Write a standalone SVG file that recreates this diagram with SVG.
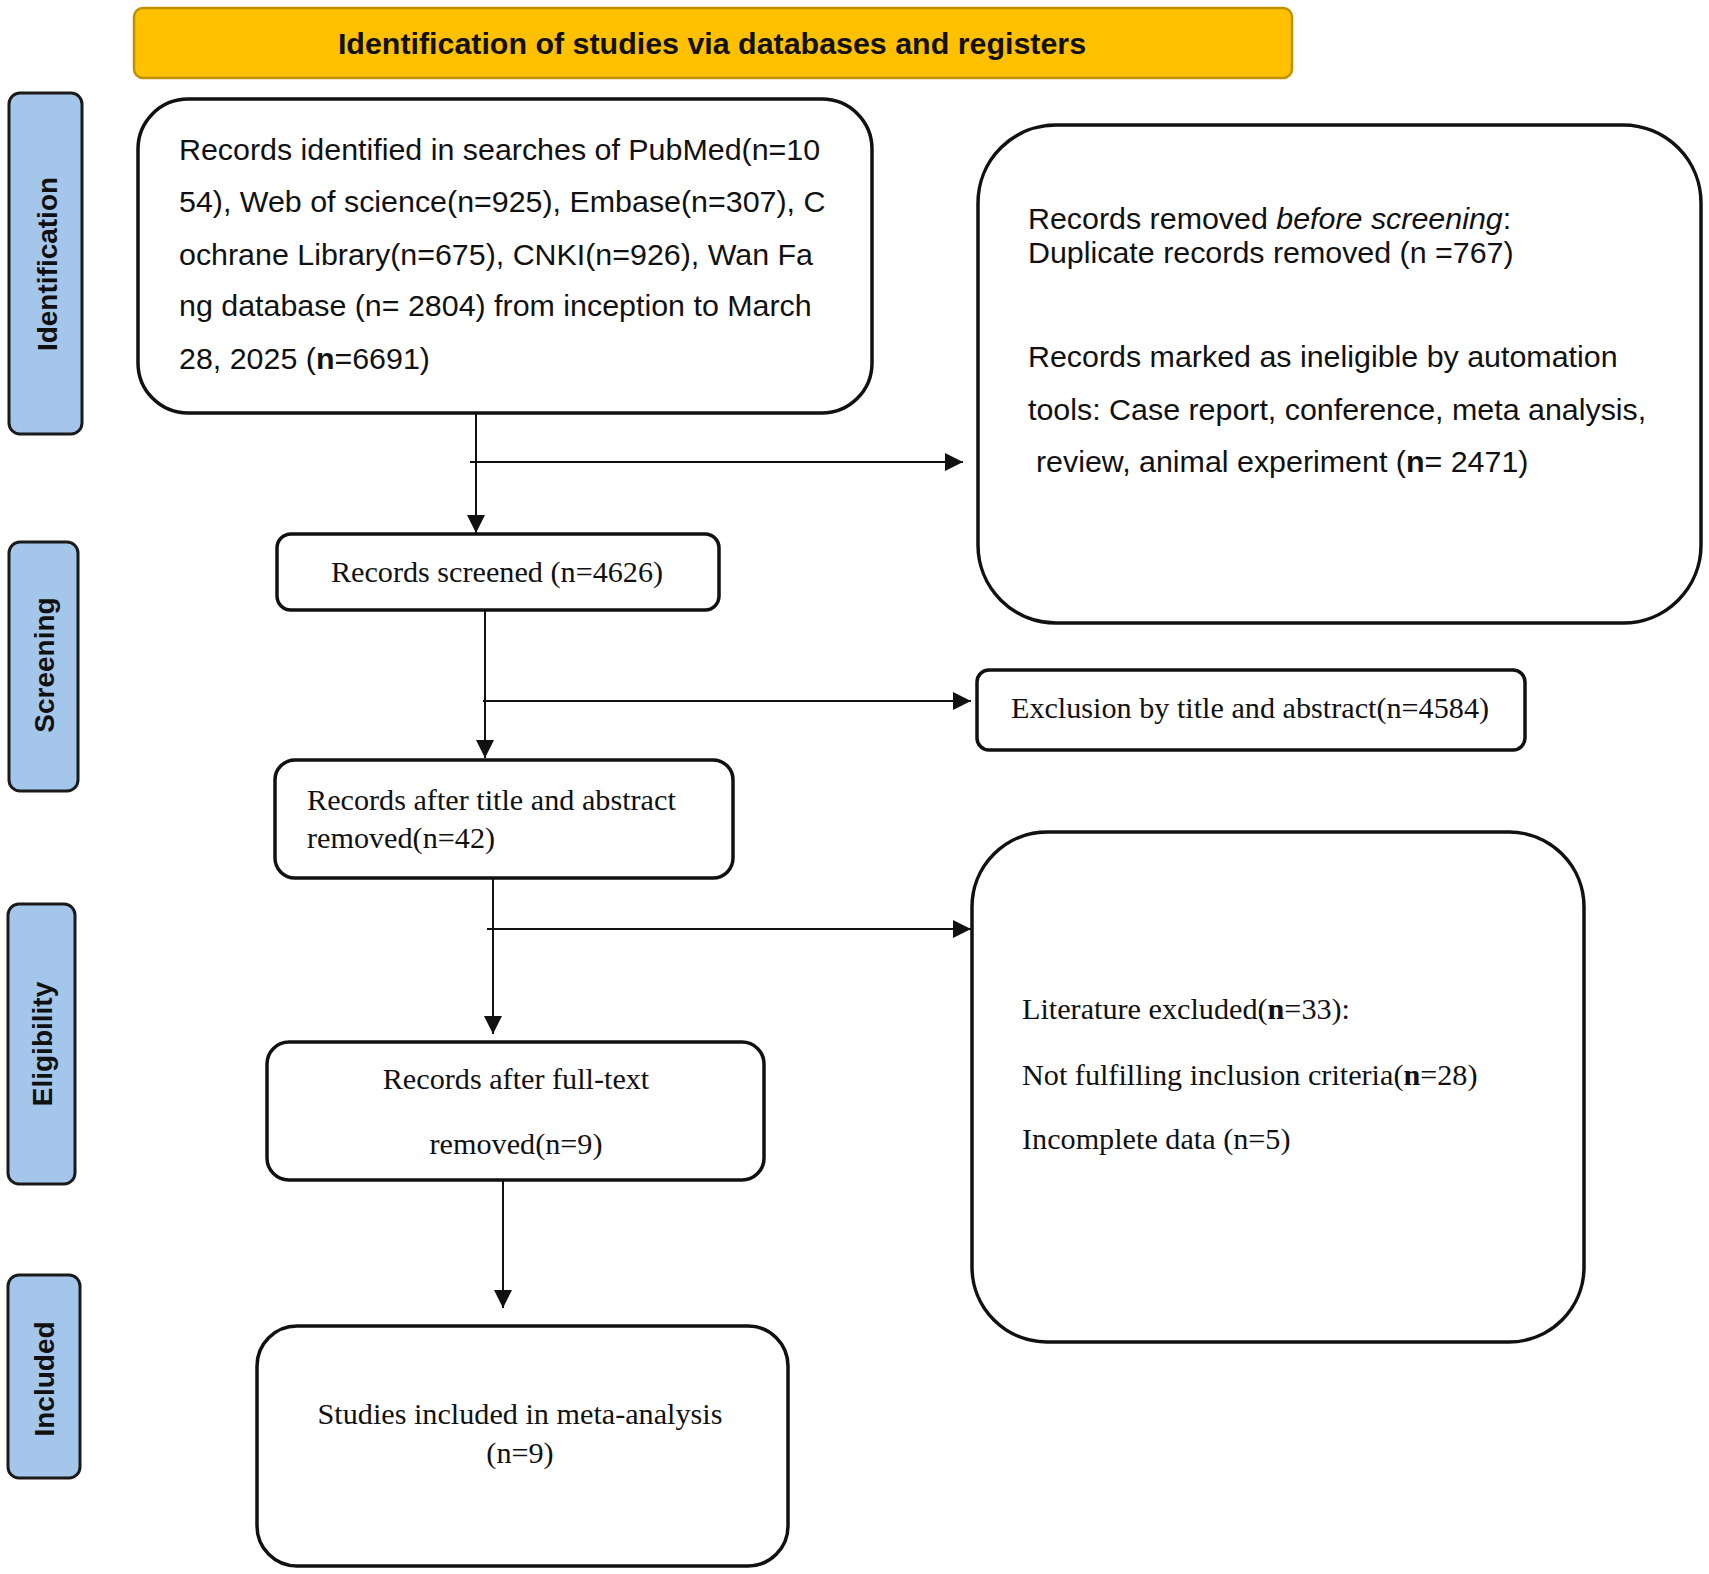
<svg xmlns="http://www.w3.org/2000/svg" width="1709" height="1574" viewBox="0 0 1709 1574">
<style>
.sans{font-family:"Liberation Sans",Arial,sans-serif;font-size:30.4px;fill:#111}
.serif{font-family:"Liberation Serif","Times New Roman",serif;font-size:30.2px;fill:#111}
.box{fill:#fff;stroke:#111;stroke-width:3.5}
.side{fill:#A4C6EA;stroke:#1a1a1a;stroke-width:3}
.sidetxt{font-family:"Liberation Sans",Arial,sans-serif;font-size:28px;font-weight:bold;fill:#111;text-anchor:middle}
.conn{stroke:#111;stroke-width:2;fill:none}
</style>
<defs>
<marker id="arr" viewBox="0 0 18 18" refX="18" refY="9" markerWidth="18" markerHeight="18" markerUnits="userSpaceOnUse" orient="auto">
<path d="M0,0 L18,9 L0,18 z" fill="#111"/>
</marker>
</defs>
<rect width="1709" height="1574" fill="#fff"/>

<g id="header">
<rect x="134" y="8" width="1158" height="70" rx="9" fill="#FFC000" stroke="#BF9000" stroke-width="2.5"/>
<text x="712" y="54" class="sans" font-weight="bold" text-anchor="middle">Identification of studies via databases and registers</text>
</g>

<g id="stage-identification">
<rect class="side" x="9" y="93" width="73" height="341" rx="11"/>
<text class="sidetxt" x="47" y="274" transform="rotate(-90 47 264)">Identification</text>
</g>
<g id="stage-screening">
<rect class="side" x="9" y="542" width="69" height="249" rx="11"/>
<text class="sidetxt" x="44" y="675" transform="rotate(-90 44 665)">Screening</text>
</g>
<g id="stage-eligibility">
<rect class="side" x="8" y="904" width="67" height="280" rx="11"/>
<text class="sidetxt" x="42" y="1054" transform="rotate(-90 42 1044)">Eligibility</text>
</g>
<g id="stage-included">
<rect class="side" x="8" y="1275" width="72" height="203" rx="11"/>
<text class="sidetxt" x="44" y="1389" transform="rotate(-90 44 1379)">Included</text>
</g>

<g id="connectors">
<path class="conn" d="M476,413 L476,533" marker-end="url(#arr)"/>
<path class="conn" d="M470,462 L963,462" stroke-width="2.5" marker-end="url(#arr)"/>
<path class="conn" d="M485,610 L485,758" marker-end="url(#arr)"/>
<path class="conn" d="M483,701 L971,701" marker-end="url(#arr)"/>
<path class="conn" d="M493,878 L493,1034" marker-end="url(#arr)"/>
<path class="conn" d="M487,929 L971,929" marker-end="url(#arr)"/>
<path class="conn" d="M503,1180 L503,1308" marker-end="url(#arr)"/>
</g>

<g id="records-identified">
<rect class="box" x="138" y="99" width="734" height="314" rx="50"/>
<text class="sans" x="179" y="160">Records identified in searches of PubMed(n=10</text>
<text class="sans" x="179" y="212">54), Web of science(n=925), Embase(n=307), C</text>
<text class="sans" x="179" y="265">ochrane Library(n=675), CNKI(n=926), Wan Fa</text>
<text class="sans" x="179" y="316">ng database (n= 2804) from inception to March</text>
<text class="sans" x="179" y="369">28, 2025 (<tspan font-weight="bold">n</tspan>=6691)</text>
</g>

<g id="records-removed">
<rect class="box" x="978" y="125" width="723" height="498" rx="78"/>
<text class="sans" x="1028" y="229">Records removed <tspan font-style="italic">before screening</tspan>:</text>
<text class="sans" x="1028" y="263">Duplicate records removed (n =767)</text>
<text class="sans" x="1028" y="367">Records marked as ineligible by automation</text>
<text class="sans" x="1028" y="420">tools: Case report, conference, meta analysis,</text>
<text class="sans" x="1036" y="472">review, animal experiment (<tspan font-weight="bold">n</tspan>= 2471)</text>
</g>

<g id="records-screened">
<rect class="box" x="277" y="534" width="442" height="76" rx="14"/>
<text class="serif" x="497" y="582" text-anchor="middle">Records screened (n=4626)</text>
</g>

<g id="exclusion-title-abstract">
<rect class="box" x="977" y="670" width="548" height="80" rx="12"/>
<text class="serif" x="1250" y="718" text-anchor="middle">Exclusion by title and abstract(n=4584)</text>
</g>

<g id="records-after-title-abstract">
<rect class="box" x="275" y="760" width="458" height="118" rx="20"/>
<text class="serif" x="307" y="810">Records after title and abstract</text>
<text class="serif" x="307" y="848">removed(n=42)</text>
</g>

<g id="literature-excluded">
<rect class="box" x="972" y="832" width="612" height="510" rx="75"/>
<text class="serif" x="1022" y="1019">Literature excluded(<tspan font-weight="bold">n</tspan>=33):</text>
<text class="serif" x="1022" y="1085">Not fulfilling inclusion criteria(<tspan font-weight="bold">n</tspan>=28)</text>
<text class="serif" x="1022" y="1149">Incomplete data (n=5)</text>
</g>

<g id="records-after-full-text">
<rect class="box" x="267" y="1042" width="497" height="138" rx="22"/>
<text class="serif" x="516" y="1089" text-anchor="middle">Records after full-text</text>
<text class="serif" x="516" y="1154" text-anchor="middle">removed(n=9)</text>
</g>

<g id="studies-included">
<rect class="box" x="257" y="1326" width="531" height="240" rx="40"/>
<text class="serif" x="520" y="1424" text-anchor="middle">Studies included in meta-analysis</text>
<text class="serif" x="520" y="1463" text-anchor="middle">(n=9)</text>
</g>
</svg>
